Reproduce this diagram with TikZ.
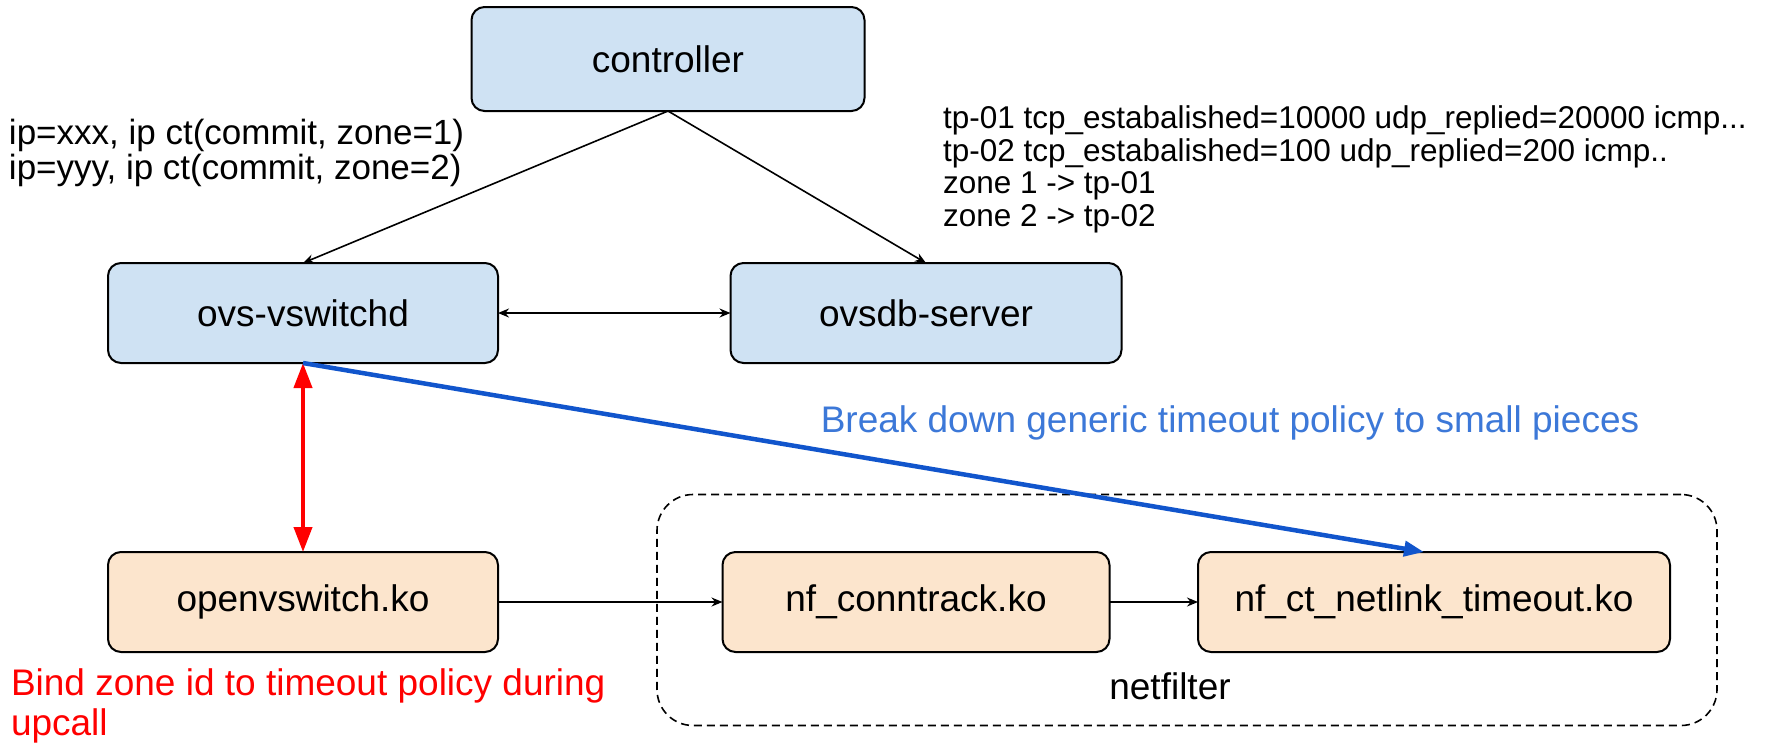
\documentclass[tikz,border=0pt]{standalone}
\usepackage{fontspec}
\setmainfont{Liberation Sans}
\usetikzlibrary{arrows.meta}
\definecolor{boxblue}{HTML}{CFE2F3}
\definecolor{boxorange}{HTML}{FCE5CD}
\definecolor{lineblue}{HTML}{1155CC}
\definecolor{textblue}{HTML}{3C78D8}
\definecolor{pured}{HTML}{FF0000}
\tikzset{
  every node/.style={inner sep=0pt, outer sep=0pt},
  modbox/.style={draw=black, line width=2pt, rounded corners=13pt, minimum height=100pt, font=\fontsize{37}{42}\selectfont},
  userbox/.style={modbox, fill=boxblue},
  kernbox/.style={modbox, fill=boxorange},
  thinarrow/.style={line width=1.6pt, -{Stealth[length=11pt, width=9pt]}},
  thinboth/.style={line width=1.6pt, {Stealth[length=11pt, width=9pt]}-{Stealth[length=11pt, width=9pt]}},
  note/.style={align=left, anchor=north west}
}
\begin{document}
\begin{tikzpicture}[x=1pt, y=-1pt]
\useasboundingbox (0,0) rectangle (1772,748);
\fill[white] (0,0) rectangle (1772,748);

% netfilter group
\node[draw=black, dash pattern=on 8pt off 5pt, line width=1.6pt, rounded corners=36pt, minimum width=1060pt, minimum height=231pt] (nfgroup) at (1187,610) {};
\node[font=\fontsize{37}{42}\selectfont] (nflabel) at (1170,686) {netfilter};

% boxes
\node[userbox, minimum width=393pt, minimum height=104pt] (ctrl) at (668,59) {controller};
\node[userbox, minimum width=390pt] (vsd) at (303,313) {ovs-vswitchd};
\node[userbox, minimum width=391pt] (db) at (926,313) {ovsdb-server};
\node[kernbox, minimum width=390pt] (ovsko) at (303,602) {openvswitch.ko};
\node[kernbox, minimum width=387pt] (ctko) at (916,602) {nf\_conntrack.ko};
\node[kernbox, minimum width=472pt] (tmko) at (1434,602) {nf\_ct\_netlink\_timeout.ko};

% texts
\node[note, font=\fontsize{35}{35}\selectfont] (flows) at (9,119) {ip=xxx, ip ct(commit, zone=1)\\ip=yyy, ip ct(commit, zone=2)};
\node[note, font=\fontsize{31.5}{32.5}\selectfont] (policies) at (943,106) {tp-01 tcp\_estabalished=10000 udp\_replied=20000 icmp...\\tp-02 tcp\_estabalished=100 udp\_replied=200 icmp..\\zone 1 -> tp-01\\zone 2 -> tp-02};
\node[font=\fontsize{37}{42}\selectfont, text=textblue] (breaktxt) at (1230,423) {Break down generic timeout policy to small pieces};
\node[note, font=\fontsize{37}{40}\selectfont, text=pured] (bindtxt) at (11,669) {Bind zone id to timeout policy during\\upcall};

% connectors
\draw[thinarrow] (ctrl.south) -- (vsd.north);
\draw[thinarrow] (ctrl.south) -- (db.north);
\draw[thinboth] (vsd.east) -- (db.west);
\draw[thinarrow] (ovsko.east) -- (ctko.west);
\draw[thinarrow] (ctko.east) -- (tmko.west);
\draw[pured, line width=4pt, {Triangle[length=25pt, width=18pt]}-{Triangle[length=25pt, width=18pt]}] (vsd.south) -- (ovsko.north);
\draw[lineblue, line width=4.5pt, -{Triangle[length=20pt, width=15pt]}] (vsd.south) -- ([xshift=-10pt]tmko.north);
\end{tikzpicture}
\end{document}
